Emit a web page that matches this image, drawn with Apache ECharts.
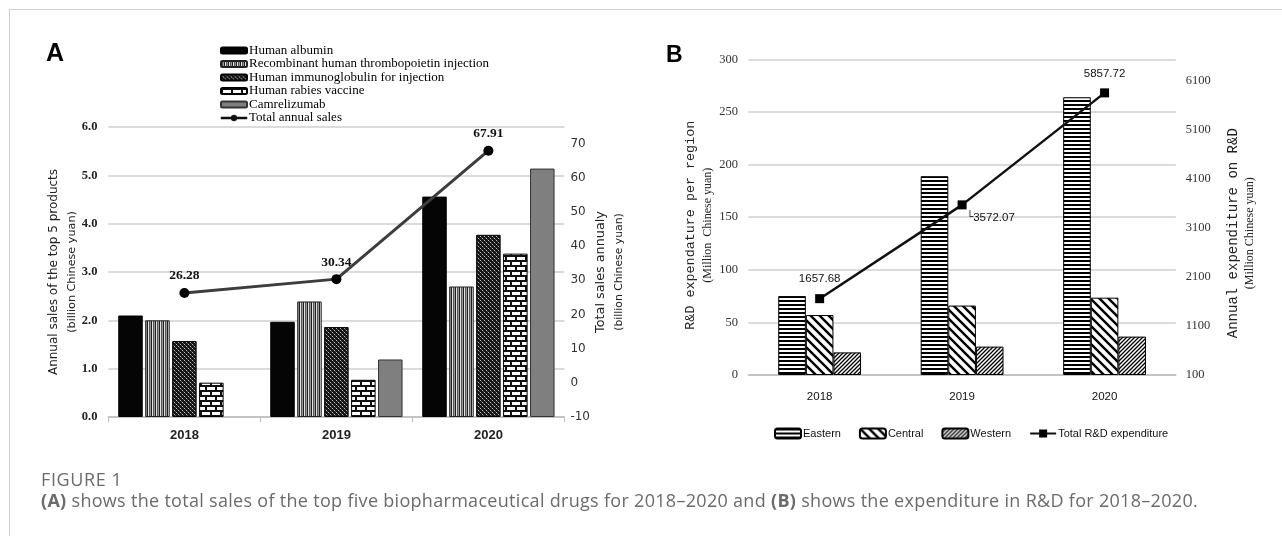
<!DOCTYPE html>
<html><head><meta charset="utf-8">
<script src="https://cdn.jsdelivr.net/npm/echarts@6/dist/echarts.min.js"></script>
<style>
html,body{margin:0;padding:0;background:#fff;}
#frame{position:absolute;left:9px;top:9px;right:0;bottom:0;border-top:1.5px solid #d0d0d0;border-left:1.5px solid #d0d0d0;}
#chart{position:absolute;left:0;top:0;width:1282px;height:536px;}
.cap{position:absolute;left:41px;font-family:"Open Sans",Lato,sans-serif;color:#6b6b6b;white-space:nowrap;}
#cap1{top:470px;font-size:18px;line-height:18px;letter-spacing:0.6px;}
#cap2{top:491px;font-size:18px;line-height:18px;letter-spacing:0.3px;}
.cap b{font-weight:700;}
</style></head>
<body>
<div id="frame"></div>
<div id="chart"></div>
<div class="cap" id="cap1">FIGURE 1</div>
<div class="cap" id="cap2"><b>(A)</b> shows the total sales of the top five biopharmaceutical drugs for 2018–2020 and <b>(B)</b> shows the expenditure in R&amp;D for 2018–2020.</div>
<script>
// ---------- data ----------
const yearsA = ['2018','2019','2020'];
const albumin = [2.10, 1.97, 4.56];
const tpo = [2.00, 2.39, 2.70];
const ivig = [1.57, 1.86, 3.77];
const rabies = [0.71, 0.77, 3.38];
const camrelizumab = [null, 1.19, 5.14];
const totalSales = [26.28, 30.34, 67.91];

const yearsB = ['2018','2019','2020'];
const eastern = [75, 189, 264];
const central = [57, 66, 73.5];
const western = [21.5, 27, 36.5];
const totalRD = [1657.68, 3572.07, 5857.72];

// ---------- patterns ----------
function pat(w,h,draw){const c=document.createElement('canvas');c.width=w;c.height=h;const g=c.getContext('2d');draw(g);return {image:c,repeat:'repeat'};}
const pTPO = pat(4,1,g=>{const cs=['#e4e4e4','#555','#9a9a9a','#1e1e1e'];cs.forEach((c,i)=>{g.fillStyle=c;g.fillRect(i,0,1,1);});});
const pIVIG = pat(4,4,g=>{g.fillStyle='#151515';g.fillRect(0,0,4,4);g.fillStyle='#bdbdbd';g.fillRect(0,0,1,1);g.fillRect(2,2,1,1);g.fillStyle='#555';g.fillRect(1,1,1,1);g.fillRect(3,3,1,1);});
const pRabies = pat(10,10,g=>{g.fillStyle='#fff';g.fillRect(0,0,10,10);g.fillStyle='#111';g.fillRect(0,0,10,2);g.fillRect(0,5,10,2);g.fillRect(0,0,2,5);g.fillRect(5,5,2,5);});
const pEast = pat(1,4,g=>{g.fillStyle='#fff';g.fillRect(0,0,1,4);g.fillStyle='#000';g.fillRect(0,0,1,2);});
const pCentral = pat(9,9,g=>{g.fillStyle='#fff';g.fillRect(0,0,9,9);g.strokeStyle='#000';g.lineWidth=2.4;g.beginPath();g.moveTo(-2,-2);g.lineTo(11,11);g.moveTo(-2,7);g.lineTo(2,11);g.moveTo(7,-2);g.lineTo(11,2);g.stroke();});
const pWest = pat(4,4,g=>{g.fillStyle='#fff';g.fillRect(0,0,4,4);g.strokeStyle='#000';g.lineWidth=1.3;g.beginPath();g.moveTo(-1,5);g.lineTo(5,-1);g.moveTo(-1,1);g.lineTo(1,-1);g.moveTo(3,5);g.lineTo(5,3);g.stroke();});

const serif = '"Liberation Serif", "DejaVu Serif", serif';
const lsans = '"Liberation Sans", Arial, sans-serif';
const mono = '"Liberation Mono", "DejaVu Sans Mono", monospace';
const sans = '"DejaVu Sans", "Liberation Sans", sans-serif';
const grid = '#cfcfcf';
const plain = v => String(v);
const lineDotIcon = 'path://M0,2 L26,2 L26,4 L0,4 Z M10,3 A3,3 0 1,1 16,3 A3,3 0 1,1 10,3 Z M0,0 L0,0 M0,6 L0,6';

const chart = echarts.init(document.getElementById('chart'), null, {renderer:'canvas'});
chart.setOption({
  animation:false,
  graphic:[
    {type:'text',left:46,top:42,style:{text:'A',font:'bold 25px "Liberation Sans", Arial, sans-serif',fill:'#000'}},
    {type:'text',left:666,top:44,style:{text:'B',font:'bold 23px "Liberation Sans", Arial, sans-serif',fill:'#000'}}
  ],
  legend:[
    {left:215,top:39,orient:'vertical',itemWidth:26,itemHeight:6,itemGap:0.5,
     textStyle:{fontFamily:serif,fontSize:13,color:'#000',lineHeight:13,padding:[0,0,0,-3]},
     data:['Human albumin','Recombinant human thrombopoietin injection','Human immunoglobulin for injection','Human rabies vaccine','Camrelizumab',
       {name:'Total annual sales',icon:lineDotIcon,itemStyle:{color:'#111',borderColor:'#111',borderWidth:0.5}}]},
    {left:769,top:422.5,orient:'horizontal',itemWidth:26,itemHeight:10,itemGap:18,
     textStyle:{fontFamily:lsans,fontSize:11,color:'#111',padding:[0,0,0,-3]},
     data:['Eastern','Central','Western','Total R&D expenditure']}
  ],
  grid:[
    {left:108.4,top:127,width:456,height:290},
    {left:748.4,top:59.4,width:427.4,height:315.6}
  ],
  xAxis:[
    {type:'category',gridIndex:0,data:yearsA,
     axisLine:{lineStyle:{color:'#bdbdbd',width:1.5}},
     axisTick:{show:true,length:5,lineStyle:{color:'#bdbdbd'}},
     axisLabel:{margin:11.5,fontFamily:lsans,fontWeight:'bold',fontSize:13,color:'#222'}},
    {type:'category',gridIndex:1,data:yearsB,
     axisLine:{lineStyle:{color:'#bdbdbd',width:1.5}},
     axisTick:{show:false},
     axisLabel:{margin:15.5,fontFamily:lsans,fontSize:11.5,color:'#111'}}
  ],
  yAxis:[
    {type:'value',gridIndex:0,min:0,max:6,interval:1,
     axisLine:{show:false},axisTick:{show:false},
     splitLine:{lineStyle:{color:grid,width:1.5}},
     axisLabel:{margin:11,fontFamily:serif,fontWeight:'bold',fontSize:12.5,color:'#222',formatter:v=>v.toFixed(1)},
     name:'{a|Annual sales of the top 5 products}\n{b|(billion Chinese yuan)}',
     nameLocation:'middle',nameRotate:90,nameGap:27.4,
     nameTextStyle:{rich:{a:{fontFamily:sans,fontSize:12,color:'#222',align:'center',lineHeight:19},b:{fontFamily:sans,fontSize:11.2,color:'#222',align:'center',lineHeight:18}}}},
    {type:'value',gridIndex:0,min:-10,max:74.85,interval:10,position:'right',
     axisLine:{show:false},axisTick:{show:false},splitLine:{show:false},
     axisLabel:{margin:6,showMaxLabel:false,fontFamily:sans,fontSize:12,color:'#333',formatter:plain},
     name:'{a|Total sales annualy}\n{b|(billion Chinese yuan)}',
     nameLocation:'middle',nameRotate:90,nameGap:27,
     nameTextStyle:{rich:{a:{fontFamily:sans,fontSize:12.8,color:'#222',align:'center',lineHeight:19},b:{fontFamily:sans,fontSize:10.8,color:'#222',align:'center',lineHeight:18}}}},
    {type:'value',gridIndex:1,min:0,max:300,interval:50,
     axisLine:{show:false},axisTick:{show:false},
     splitLine:{lineStyle:{color:grid,width:1.5}},
     axisLabel:{margin:10.4,fontFamily:serif,fontSize:12.5,color:'#333',formatter:plain},
     name:'{a|R&D expendature per region}\n{b|(Million  Chinese yuan)}',
     nameLocation:'middle',nameRotate:90,nameGap:33,
     nameTextStyle:{padding:[0,16,0,0],rich:{a:{fontFamily:mono,fontSize:13.4,color:'#222',align:'center',lineHeight:17},b:{fontFamily:serif,fontSize:12,color:'#222',align:'center',lineHeight:16}}}},
    {type:'value',gridIndex:1,min:100,max:6541,interval:1000,position:'right',
     axisLine:{show:false},axisTick:{show:false},splitLine:{show:false},
     axisLabel:{margin:10,showMaxLabel:false,fontFamily:serif,fontSize:12.5,color:'#333',formatter:plain},
     name:'{a|Annual expenditure on R&D}\n{b|(Million Chinese yuan)}',
     nameLocation:'middle',nameRotate:90,nameGap:48.7,
     nameTextStyle:{padding:[0,32,0,0],rich:{a:{fontFamily:mono,fontSize:14,color:'#222',align:'center',lineHeight:17},b:{fontFamily:serif,fontSize:12,color:'#222',align:'center',lineHeight:16}}}}
  ],
  series:[
    {name:'Human albumin',type:'bar',xAxisIndex:0,yAxisIndex:0,data:albumin,barWidth:24.5,barGap:'10%',
     itemStyle:{color:'#050505',borderColor:'#000',borderWidth:1}},
    {name:'Recombinant human thrombopoietin injection',type:'bar',xAxisIndex:0,yAxisIndex:0,data:tpo,barWidth:24.5,barGap:'10%',
     itemStyle:{color:pTPO,borderColor:'#222',borderWidth:1}},
    {name:'Human immunoglobulin for injection',type:'bar',xAxisIndex:0,yAxisIndex:0,data:ivig,barWidth:24.5,barGap:'10%',
     itemStyle:{color:pIVIG,borderColor:'#000',borderWidth:1}},
    {name:'Human rabies vaccine',type:'bar',xAxisIndex:0,yAxisIndex:0,data:rabies,barWidth:24.5,barGap:'10%',
     itemStyle:{color:pRabies,borderColor:'#000',borderWidth:1}},
    {name:'Camrelizumab',type:'bar',xAxisIndex:0,yAxisIndex:0,data:camrelizumab,barWidth:24.5,barGap:'10%',
     itemStyle:{color:'#7f7f7f',borderColor:'#333',borderWidth:1}},
    {name:'Total annual sales',type:'line',xAxisIndex:0,yAxisIndex:1,data:totalSales,
     symbol:'circle',symbolSize:10,lineStyle:{color:'#3d3d3d',width:3},itemStyle:{color:'#000'},
     label:{show:true,position:'top',distance:5,fontFamily:serif,fontWeight:'bold',fontSize:13.5,color:'#111'}},
    {name:'Eastern',type:'bar',xAxisIndex:1,yAxisIndex:2,data:eastern,barWidth:27.6,barGap:'0%',
     itemStyle:{color:pEast,borderColor:'#000',borderWidth:1}},
    {name:'Central',type:'bar',xAxisIndex:1,yAxisIndex:2,data:central,barWidth:27.6,barGap:'0%',
     itemStyle:{color:pCentral,borderColor:'#000',borderWidth:1}},
    {name:'Western',type:'bar',xAxisIndex:1,yAxisIndex:2,data:western,barWidth:27.6,barGap:'0%',
     itemStyle:{color:pWest,borderColor:'#000',borderWidth:1}},
    {name:'Total R&D expenditure',type:'line',xAxisIndex:1,yAxisIndex:3,
     data:totalRD.map((v,i)=> i===1 ? {value:v,label:{position:'right',distance:0,offset:[0,12.5],
        formatter:p=>'{g|└}{v|'+p.value+'}',rich:{g:{fontFamily:sans,fontSize:11,color:'#333'},v:{fontFamily:lsans,fontSize:11.5,color:'#111'}}}} : v),
     symbol:'rect',symbolSize:9,lineStyle:{color:'#111',width:2.5},itemStyle:{color:'#000'},
     label:{show:true,position:'top',distance:9,fontFamily:lsans,fontSize:11.5,color:'#111',formatter:p=>String(p.value)}}
  ]
});
</script>
</body></html>
